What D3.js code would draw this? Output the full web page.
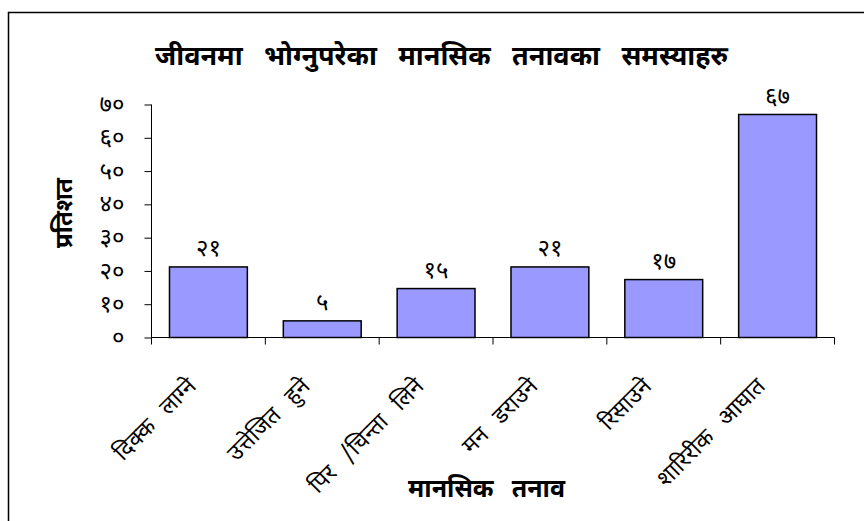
<!DOCTYPE html>
<html>
<head>
<meta charset="utf-8">
<script src="https://cdn.jsdelivr.net/npm/d3@7"></script>
<style>
  body { margin: 0; background: #fff; }
  text { font-family: "Noto Sans Devanagari", "Lohit Devanagari", "Noto Sans", sans-serif; fill: #000; }
</style>
</head>
<body>
<svg id="chart" width="864" height="521"></svg>
<script>

// categories (x axis)
let categories = ["दिक्क लाग्ने", "उत्तेजित हुने", "पिर /चिन्ता लिने", "मन डराउने", "रिसाउने", "शारिरीक आघात"];
// percentage per category
let values = [21.2, 5, 14.7, 21.2, 17.4, 67];
// labels printed above the bars
let valueLabels = ["२१", "५", "१५", "२१", "१७", "६७"];
// y ticks
let yTicks = [0, 10, 20, 30, 40, 50, 60, 70];
let yTickLabels = ["०", "१०", "२०", "३०", "४०", "५०", "६०", "७०"];

let titleText = "जीवनमा भोग्नुपरेका मानसिक तनावका समस्याहरु";
let yTitle = "प्रतिशत";
let xTitle = "मानसिक तनाव";

var svg = d3.select("#chart");
var margin = {top: 104.5, left: 151.5};
var width = 834.5 - margin.left,
    height = 337.5 - margin.top;

// stretch the gaps between words so the text fills the given width
function fitWords(sel, target) {
  var node = sel.node();
  var spaces = (sel.text().match(/ /g) || []).length;
  var w = node.getComputedTextLength();
  if (spaces > 0) sel.style("word-spacing", ((target - w) / spaces) + "px");
}

// outer frame (only the top and left edges show in the window)
svg.append("path")
  .attr("d", "M8.5,521 V12.5 H864")
  .attr("fill", "none")
  .attr("stroke", "#000")
  .attr("stroke-width", 1.5);

var x = d3.scaleBand().domain(d3.range(categories.length)).range([0, width]).paddingInner(0.316).paddingOuter(0.158);
var y = d3.scaleLinear().domain([0, 70]).range([height, 0]);

var g = svg.append("g").attr("transform", "translate(" + margin.left + "," + margin.top + ")");

// y axis
var yAxis = g.append("g")
  .call(d3.axisLeft(y).tickValues(yTicks).tickSize(7).tickFormat(function(d, i) { return yTickLabels[i]; }));
yAxis.select(".domain").attr("d", "M0,0 V" + height).attr("stroke", "#000");
yAxis.selectAll(".tick line").attr("stroke", "#000");
yAxis.selectAll(".tick text")
  .attr("x", -27).attr("dy", "0.3em")
  .attr("font-size", 24)
  .style("font-size", "24px");

// x axis: ticks at the band edges like the original
var edges = d3.range(categories.length + 1).map(function(i) { return i * x.step(); });
var xAxis = g.append("g").attr("transform", "translate(0," + height + ")");
xAxis.append("line").attr("x1", 0).attr("x2", width).attr("stroke", "#000");
xAxis.selectAll(".edge").data(edges).enter().append("line")
  .attr("x1", function(d) { return d; }).attr("x2", function(d) { return d; })
  .attr("y1", 0).attr("y2", 7).attr("stroke", "#000");

// bars
g.selectAll(".bar").data(values).enter().append("rect")
  .attr("class", "bar")
  .attr("x", function(d, i) { return x(i); })
  .attr("y", function(d) { return y(d); })
  .attr("width", x.bandwidth())
  .attr("height", function(d) { return height - y(d); })
  .attr("fill", "#9999ff")
  .attr("stroke", "#000")
  .attr("stroke-width", 1.5);

// value labels
g.selectAll(".val").data(values).enter().append("text")
  .attr("x", function(d, i) { return x(i) + x.bandwidth() / 2; })
  .attr("y", function(d) { return y(d) - 11; })
  .attr("text-anchor", "middle")
  .style("font-size", "24px")
  .text(function(d, i) { return valueLabels[i]; });

// category labels, rotated
g.selectAll(".cat").data(categories).enter().append("text")
  .attr("transform", function(d, i) {
    return "translate(" + (x(i) + x.bandwidth() / 2 - 11) + "," + (height + 50) + ") rotate(-45)";
  })
  .attr("text-anchor", "end")
  .style("font-size", "23px")
  .style("word-spacing", "10px")
  .text(function(d) { return d; });

// titles
var title = svg.append("text")
  .attr("x", 441.5).attr("y", 65)
  .attr("text-anchor", "middle")
  .style("font-size", "27px").style("font-weight", "bold")
  .text(titleText);
fitWords(title, 573);

svg.append("text")
  .attr("transform", "translate(72,213) rotate(-90)")
  .attr("text-anchor", "middle")
  .style("font-size", "24px").style("font-weight", "bold")
  .text(yTitle);

var xt = svg.append("text")
  .attr("x", 486.5).attr("y", 497)
  .attr("text-anchor", "middle")
  .style("font-size", "25px").style("font-weight", "bold")
  .text(xTitle);
fitWords(xt, 157);

</script>
</body>
</html>
